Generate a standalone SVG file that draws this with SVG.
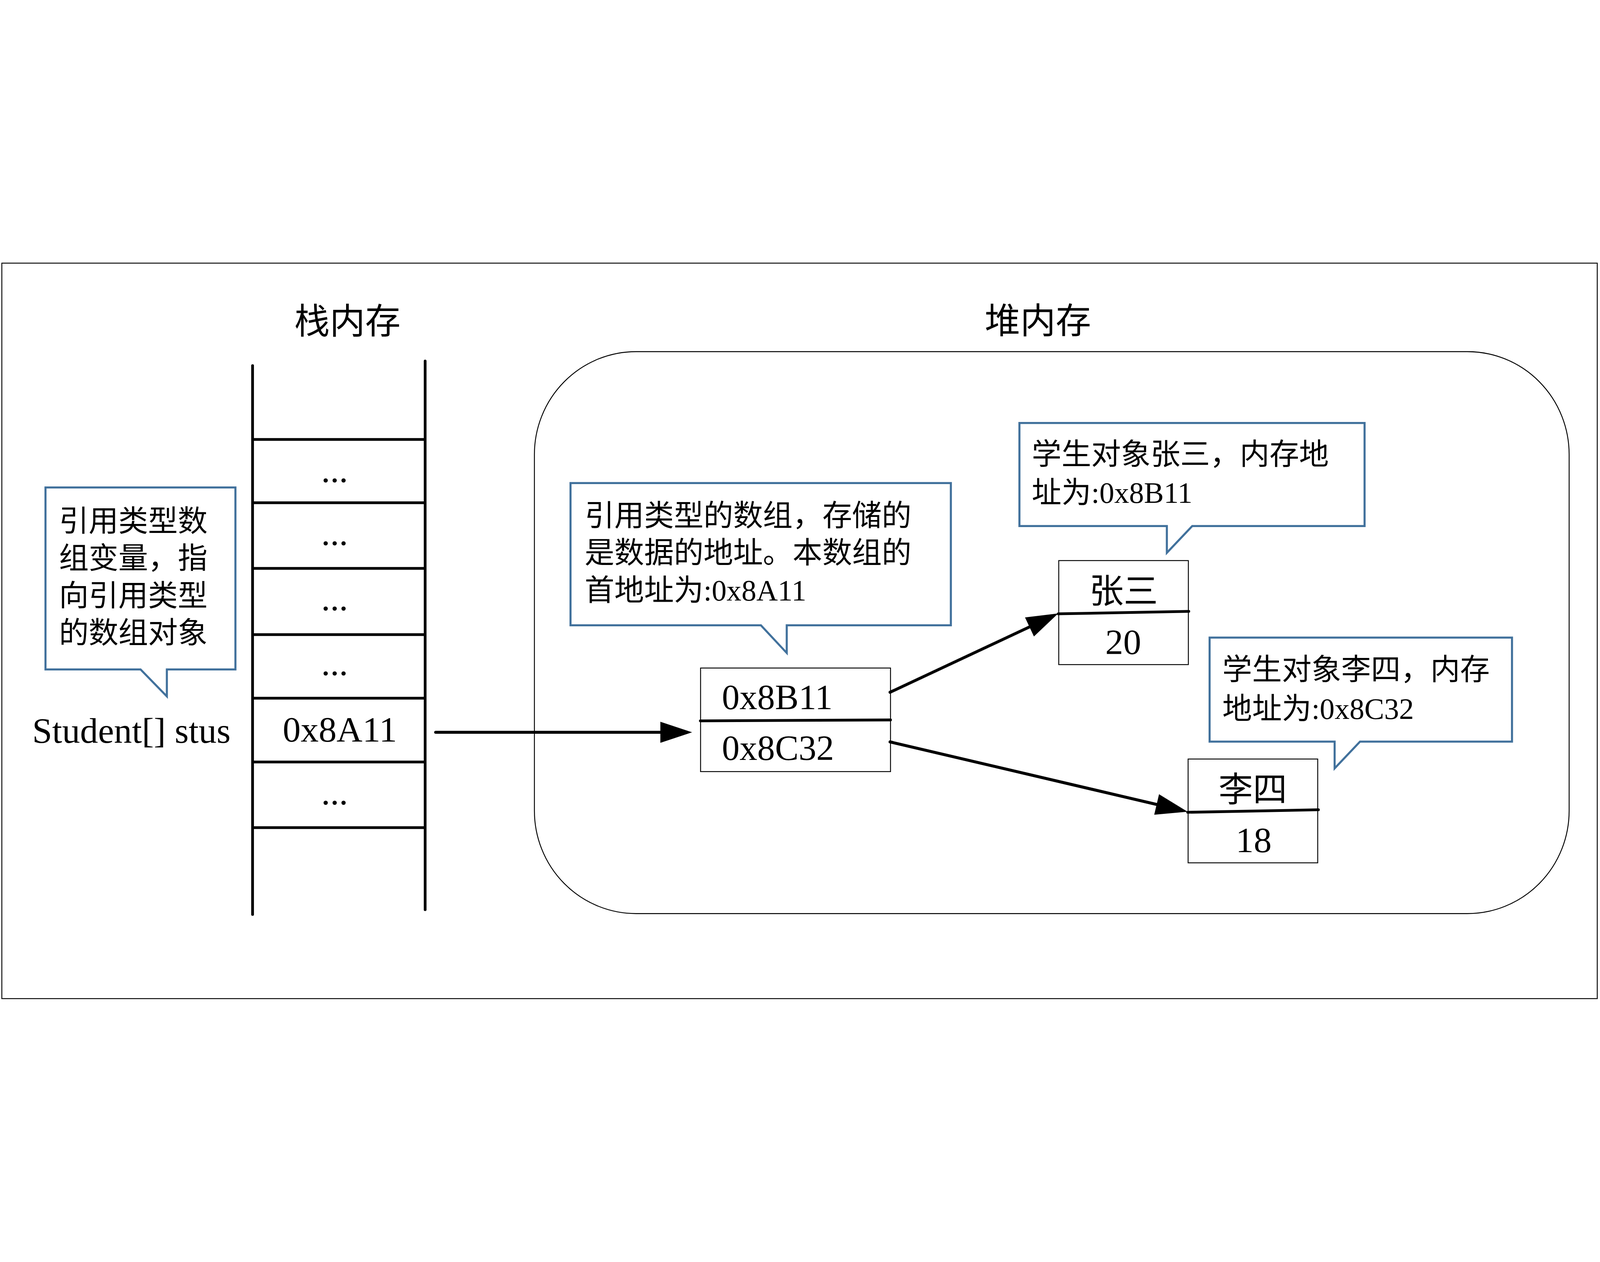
<svg xmlns="http://www.w3.org/2000/svg" width="7000" height="3230" viewBox="0 0 7000 3230">
<style>
svg{width:100vw;height:100vh}
.lat{font-family:"Liberation Serif","Noto Sans CJK SC",serif;fill:#000}
.cjk{font-family:"Liberation Serif","Noto Sans CJK SC",serif;fill:#000}
.callout{fill:#fff;stroke:#41719C;stroke-width:9;stroke-linejoin:miter}
.node{fill:#fff;stroke:#000;stroke-width:4}
.div{stroke:#000;stroke-width:12;stroke-linecap:round}
.stk{stroke:#000;stroke-width:12;stroke-linecap:round}
.row{stroke:#000;stroke-width:12}
.conn{stroke:#000;stroke-width:13;stroke-linecap:round;fill:none}
</style>
<defs>
<marker id="arr" markerUnits="userSpaceOnUse" markerWidth="160" markerHeight="110" viewBox="0 -55 150 110" refX="10" refY="0" orient="auto">
<path d="M0,-46 L139,0 L0,46 Z" fill="#000"/>
</marker>
</defs>
<rect x="0" y="0" width="7000" height="3230" fill="#fff"/>
<rect id="frame" x="8" y="6" width="6980" height="3217" fill="none" stroke="#000" stroke-width="4"/>

<g id="stack">
<text class="cjk" x="1520" y="314" font-size="155" text-anchor="middle">栈内存</text>
<line class="stk" x1="1105" y1="454" x2="1105" y2="2855"/>
<line class="stk" x1="1860" y1="434" x2="1860" y2="2834"/>
<line class="row" x1="1105" y1="777" x2="1860" y2="777"/>
<line class="row" x1="1105" y1="1054" x2="1860" y2="1054"/>
<line class="row" x1="1105" y1="1341" x2="1860" y2="1341"/>
<line class="row" x1="1105" y1="1631" x2="1860" y2="1631"/>
<line class="row" x1="1105" y1="1909" x2="1860" y2="1909"/>
<line class="row" x1="1105" y1="2188" x2="1860" y2="2188"/>
<line class="row" x1="1105" y1="2475" x2="1860" y2="2475"/>
<text class="lat" x="1464" y="964" font-size="157" text-anchor="middle">...</text>
<text class="lat" x="1464" y="1239" font-size="157" text-anchor="middle">...</text>
<text class="lat" x="1464" y="1525" font-size="157" text-anchor="middle">...</text>
<text class="lat" x="1464" y="1808" font-size="157" text-anchor="middle">...</text>
<text class="lat" x="1487" y="2099" font-size="157" text-anchor="middle">0x8A11</text>
<text class="lat" x="1464" y="2374" font-size="157" text-anchor="middle">...</text>
</g>

<g id="var-label">
<text class="lat" x="141" y="2104" font-size="157">Student[] stus</text>
</g>

<g id="callout-var">
<path class="callout" d="M199,987 L1030,987 L1030,1783 L730,1783 L730,1901 L615,1783 L199,1783 Z"/>
<text class="cjk" font-size="130"><tspan x="258" y="1179">引用类型数</tspan><tspan x="258" y="1342">组变量，指</tspan><tspan x="258" y="1505">向引用类型</tspan><tspan x="258" y="1668">的数组对象</tspan></text>
</g>

<g id="heap">
<rect x="2338" y="393" width="4527" height="2458" rx="445" ry="450" fill="none" stroke="#000" stroke-width="4"/>
<text class="cjk" x="4541" y="313" font-size="155" text-anchor="middle">堆内存</text>
</g>

<g id="callout-array">
<path class="callout" d="M2496,968 L4160,968 L4160,1590 L3442,1590 L3442,1711 L3329,1590 L2496,1590 Z"/>
<text class="cjk" font-size="130"><tspan x="2558" y="1155">引用类型的数组，存储的</tspan><tspan x="2558" y="1318">是数据的地址。本数组的</tspan><tspan x="2558" y="1481">首地址为:0x8A11</tspan></text>
</g>

<g id="callout-zhang">
<path class="callout" d="M4460,705 L5970,705 L5970,1156 L5216,1156 L5105,1273 L5105,1156 L4460,1156 Z"/>
<text class="cjk" font-size="130"><tspan x="4514" y="887">学生对象张三，内存地</tspan><tspan x="4514" y="1055">址为:0x8B11</tspan></text>
</g>

<g id="callout-li">
<path class="callout" d="M5292,1644 L6615,1644 L6615,2099 L5950,2099 L5839,2216 L5839,2099 L5292,2099 Z"/>
<text class="cjk" font-size="130"><tspan x="5348" y="1829">学生对象李四，内存</tspan><tspan x="5348" y="1999">地址为:0x8C32</tspan></text>
</g>

<g id="array-node">
<rect class="node" x="3065" y="1777" width="831" height="453"/>
<line class="div" x1="3064" y1="2008" x2="3896" y2="2004"/>
<text class="lat" x="3158" y="1956" font-size="155">0x8B11</text>
<text class="lat" x="3158" y="2179" font-size="155">0x8C32</text>
</g>

<g id="zhangsan-node">
<rect class="node" x="4632" y="1307" width="567" height="455"/>
<text class="cjk" x="4916" y="1492" font-size="150" text-anchor="middle">张三</text>
<text class="lat" x="4914" y="1715" font-size="157" text-anchor="middle">20</text>
</g>

<g id="lisi-node">
<rect class="node" x="5198" y="2175" width="567" height="454"/>
<text class="cjk" x="5481" y="2360" font-size="150" text-anchor="middle">李四</text>
<text class="lat" x="5485" y="2582" font-size="157" text-anchor="middle">18</text>
</g>

<g id="connectors">
<line class="conn" x1="1906" y1="2058" x2="2899" y2="2058" marker-end="url(#arr)"/>
<line class="conn" x1="3894" y1="1883" x2="4513" y2="1593" marker-end="url(#arr)"/>
<line class="conn" x1="3894" y1="2100" x2="5070" y2="2376" marker-end="url(#arr)"/>
<line class="div" x1="4630" y1="1540" x2="5201" y2="1529"/>
<line class="div" x1="5196" y1="2408" x2="5768" y2="2397"/>
</g>
</svg>
